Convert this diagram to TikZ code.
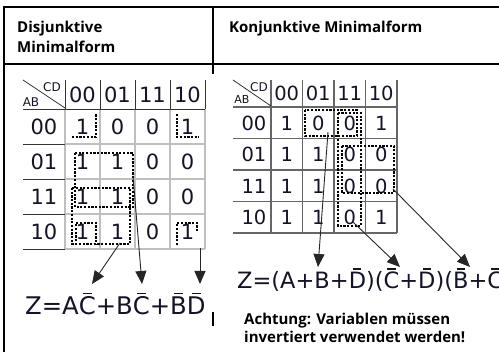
\documentclass[tikz,border=0pt]{standalone}
\usepackage{fontspec}
\setmainfont{Open Sans}
\newfontfamily\dvs{DejaVu Sans}
\usetikzlibrary{arrows.meta}
\newcommand\kbar[1]{\leavevmode\setbox0=\hbox{#1}\rlap{\hbox to\wd0{\hss\raisebox{0.86em}{\rule{0.36em}{0.065em}}\hss}}\box0}
\definecolor{ink}{RGB}{20,20,40}
\tikzset{
  tline/.style={draw=black, line width=2.2pt},
  hdr/.style={font=\bfseries\fontsize{15}{18}\selectfont, inner sep=0pt, anchor=base west},
  note/.style={font=\bfseries\fontsize{15}{17}\selectfont, inner sep=0pt, anchor=base west},
  gridg/.style={draw=gray!50, line width=1.4pt},
  gridk/.style={draw=black!80, line width=0.8pt},
  gridr/.style={draw=black!60, line width=1.1pt},
  ld/.style={font=\dvs\fontsize{21}{24}\selectfont, text=ink, inner sep=0pt},
  rd/.style={font=\dvs\fontsize{19.5}{22}\selectfont, text=ink, inner sep=0pt},
  sm/.style={font=\dvs\fontsize{12}{14}\selectfont, text=ink, inner sep=0pt},
  grp/.style={draw=black, line width=1.1pt, dash pattern=on 2.2pt off 1.5pt},
  arr/.style={draw=black!85, line width=0.9pt, -{Triangle[length=13pt,width=11pt]}},
  eq/.style={text=ink, inner sep=0pt, anchor=base west}
}
\begin{document}
\begin{tikzpicture}[x=1pt,y=-1pt]
\useasboundingbox (0,0) rectangle (499,352);
\clip (0,0) rectangle (499,352);
\fill[white] (0,0) rectangle (499,352);
% table
\draw[tline] (4,7) -- (499,7);
\draw[tline] (4,64) -- (499,64);
\draw[tline] (4,6) -- (4,352);
\draw[draw=black, line width=1.6pt] (213,7) -- (213,74);
\draw[draw=black, line width=1.6pt] (213,312) -- (213,326);
\node[hdr] (h1) at (17,33) {Disjunktive};
\node[hdr] (h2) at (17,53) {Minimalform};
\node[hdr] (h3) at (229,33) {Konjunktive Minimalform};
% ---------- left K-map ----------
\foreach \i in {0,...,4} \draw[gridg] (65+35*\i,109) -- (65+35*\i,249);
\foreach \j in {1,...,4} \draw[gridg] (65,109+35*\j) -- (205,109+35*\j);
\foreach \j in {1,...,4} \draw[gridk] (23,109+35*\j) -- (65,109+35*\j);
\draw[gridk] (23,109) -- (205,109);
\foreach \i in {0,...,4} \draw[gridk] (65+35*\i,80) -- (65+35*\i,109);
\draw[gridk] (23,80) -- (65,108);
\node[sm] (Lcd) at (52,87) {CD};
\node[sm] (Lab) at (31,102) {AB};
\foreach \h [count=\i from 0] in {00,01,11,10} \node[ld] (Lc\i) at (82.5+35*\i,94.5) {\h};
\foreach \lab/\a/\b/\cc/\d [count=\j from 0] in {00/1/0/0/1,01/1/1/0/0,11/1/1/0/0,10/1/1/0/1} {
  \node[ld] (Lr\j) at (44,127+35*\j) {\lab};
  \node[ld] (L\j-0) at (82.5,127+35*\j) {\a};
  \node[ld] (L\j-1) at (117.5,127+35*\j) {\b};
  \node[ld] (L\j-2) at (152.5,127+35*\j) {\cc};
  \node[ld] (L\j-3) at (187.5,127+35*\j) {\d};
}
% groups left
\draw[grp] (72,137) -- (96,137) -- (96,114);
\draw[grp] (177,114) -- (177,137) -- (199,137);
\draw[grp] (76,245) -- (76,223) -- (96,223) -- (96,245);
\draw[grp] (177,245) -- (177,223) -- (197,223) -- (197,231);
\draw[grp] (72,188) rectangle (130,244);
\draw[grp] (75,153) rectangle (133,207);
% arrows left
\coordinate (la1s) at (120,243); \coordinate (la1e) at (92,284);
\coordinate (la2s) at (133,176); \coordinate (la2e) at (142,284);
\coordinate (la3s) at (200,248); \coordinate (la3e) at (200,284);
\draw[arr] (la1s) -- (la1e);
\draw[arr] (la2s) -- (la2e);
\draw[arr] (la3s) -- (la3e);
\node[eq, font=\dvs\fontsize{24.3}{28}\selectfont] (leq) at (25,315) {Z=A\kbar{C}+B\kbar{C}+\kbar{B}\kbar{D}};
% ---------- right K-map ----------
\foreach \i in {0,...,4} \draw[gridr] (271+31.5*\i,80) -- (271+31.5*\i,233);
\foreach \j in {0,...,4} \draw[gridr] (233,107+31.5*\j) -- (397,107+31.5*\j);
\draw[gridk] (233,80) -- (271,106);
\node[sm] (Rcd) at (259,87) {CD};
\node[sm, font=\dvs\fontsize{11}{13}\selectfont] (Rab) at (242,99) {AB};
\foreach \h [count=\i from 0] in {00,01,11,10} \node[rd] (Rc\i) at (286.75+31.5*\i,93.5) {\h};
\foreach \lab/\a/\b/\cc/\d [count=\j from 0] in {00/1/0/0/1,01/1/1/0/0,11/1/1/0/0,10/1/1/0/1} {
  \node[rd] (Rr\j) at (254,123+31.5*\j) {\lab};
  \node[rd] (R\j-0) at (286.75,123+31.5*\j) {\a};
  \node[rd] (R\j-1) at (318.25,123+31.5*\j) {\b};
  \node[rd] (R\j-2) at (349.75,123+31.5*\j) {\cc};
  \node[rd] (R\j-3) at (381.25,123+31.5*\j) {\d};
}
% groups right
\draw[grp] (305,110) rectangle (357,136);
\draw[grp] (338,113) rectangle (361,226);
\draw[grp] (342,146) rectangle (394,193);
% arrows right
\coordinate (ra1s) at (328,132); \coordinate (ra1e) at (318,267);
\coordinate (ra2s) at (353,222); \coordinate (ra2e) at (400,267);
\coordinate (ra3s) at (393,189); \coordinate (ra3e) at (470,267);
\draw[arr] (ra1s) -- (ra1e);
\draw[arr] (ra2s) -- (ra2e);
\draw[arr] (ra3s) -- (ra3e);
\node[eq, font=\dvs\fontsize{22.5}{26}\selectfont] (req) at (237,289) {Z=(A+B+\kbar{D})(\kbar{C}+\kbar{D})(\kbar{B}+\kbar{C})};
\node[note] (n1) at (244,325) {Achtung: Variablen müssen};
\node[note] (n2) at (244,343) {invertiert verwendet werden!};
\end{tikzpicture}
\end{document}
